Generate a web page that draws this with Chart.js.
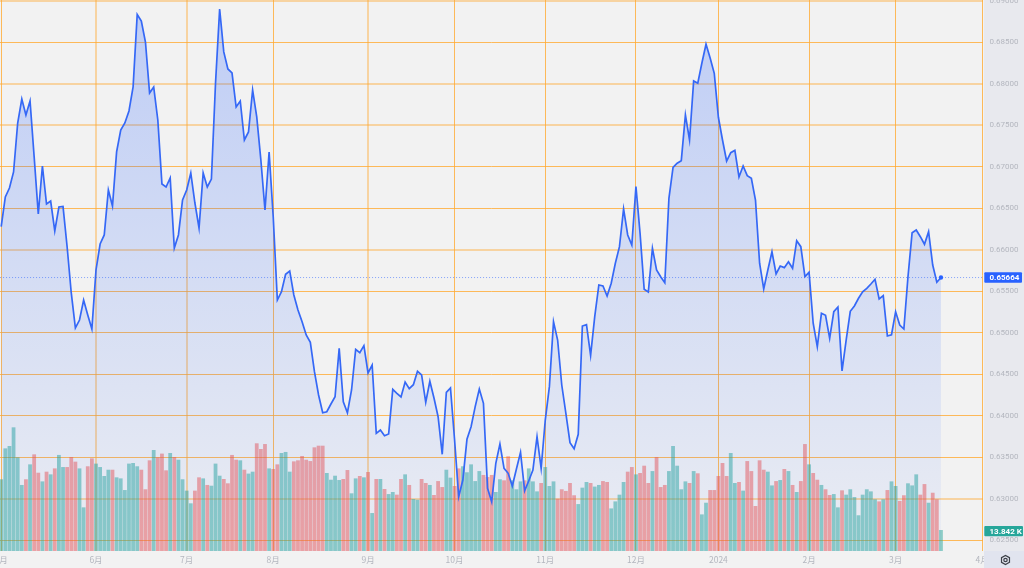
<!DOCTYPE html>
<html lang="ja">
<head>
<meta charset="utf-8">
<style>html,body{margin:0;padding:0;background:#f2f2f2;overflow:hidden}canvas{display:block}</style>
<script src="https://cdn.jsdelivr.net/npm/chart.js@4/dist/chart.umd.min.js"></script>
</head>
<body>
<canvas id="c" width="1024" height="568"></canvas>
<script>
const monthIndex = [0,23,45,66,89,110,132,154,174,196,217,238];
const monthLabels = ['5月','6月','7月','8月','9月','10月','11月','12月','2024','2月','3月','4月'];
const priceTicks = [0.625,0.63,0.635,0.64,0.645,0.65,0.655,0.66,0.665,0.67,0.675,0.68,0.685,0.69];
const prices = [
0.66277,0.66635,0.66743,0.66936,0.67526,0.67815,0.67623,0.67791,0.67117,0.66430,
0.67008,0.66550,0.66586,0.66225,0.66514,0.66520,0.66032,0.65478,0.65056,0.65152,
0.65393,0.65213,0.65044,0.65755,0.66068,0.66177,0.66719,0.66526,0.67177,0.67442,
0.67526,0.67671,0.67960,0.68834,0.68755,0.68502,0.67888,0.67960,0.67562,0.66791,
0.66755,0.66864,0.66020,0.66177,0.66598,0.66719,0.66924,0.66562,0.66261,0.66924,
0.66755,0.66851,0.68008,0.68900,0.68382,0.68177,0.68129,0.67719,0.67791,0.67321,
0.67418,0.67924,0.67599,0.67080,0.66478,0.67177,0.66394,0.65393,0.65493,0.65703,
0.65743,0.65454,0.65273,0.65132,0.64972,0.64884,0.64529,0.64249,0.64035,0.64047,
0.64140,0.64228,0.64811,0.64168,0.64035,0.64309,0.64799,0.64758,0.64843,0.64514,
0.64610,0.63787,0.63827,0.63758,0.63779,0.64317,0.64269,0.64225,0.64405,0.64325,
0.64373,0.64534,0.64490,0.64161,0.64414,0.64213,0.63987,0.63534,0.64281,0.64333,
0.63706,0.63023,0.63224,0.63715,0.63867,0.64108,0.64321,0.64149,0.63124,0.62963,
0.63426,0.63658,0.63365,0.63305,0.63152,0.63357,0.63558,0.63095,0.63216,0.63345,
0.63746,0.63365,0.63947,0.64349,0.65132,0.64911,0.64369,0.64028,0.63674,0.63602,
0.63775,0.65080,0.65096,0.64727,0.65192,0.65574,0.65562,0.65442,0.65595,0.65836,
0.66036,0.66490,0.66177,0.66056,0.66759,0.66197,0.65522,0.65490,0.66016,0.65755,
0.65674,0.65602,0.66619,0.66992,0.67041,0.67072,0.67623,0.67321,0.68032,0.68005,
0.68249,0.68475,0.68310,0.68125,0.67595,0.67321,0.67068,0.67168,0.67197,0.66876,
0.67008,0.66891,0.66860,0.66598,0.65836,0.65526,0.65755,0.65975,0.65707,0.65803,
0.65783,0.65855,0.65775,0.66108,0.66036,0.65674,0.65727,0.65113,0.64831,0.65233,
0.65209,0.64932,0.65252,0.65309,0.64538,0.64911,0.65257,0.65321,0.65414,0.65493,
0.65534,0.65586,0.65643,0.65405,0.65445,0.64960,0.64975,0.65252,0.65092,0.65044,
0.65674,0.66204,0.66237,0.66156,0.66065,0.66216,0.65815,0.65607,0.65664];
const volumes = [
47.8,68.5,70.1,82.6,62.5,44.0,47.8,57.8,64.5,52.2,
46.4,52.9,51.1,55.1,64.1,56.0,56.0,62.7,59.6,55.1,
29.0,56.5,61.8,58.3,56.0,50.0,54.2,54.2,49.1,48.4,
40.6,58.3,58.7,56.5,54.2,41.1,60.5,67.4,62.5,65.0,
53.8,65.4,62.7,60.9,47.8,40.2,31.7,40.2,49.1,48.4,
44.0,43.5,58.3,50.2,48.0,45.1,64.1,60.9,60.5,54.2,
51.6,52.9,71.9,68.1,71.4,55.1,54.7,57.8,65.4,66.1,
52.9,59.8,60.5,63.4,60.9,60.0,69.2,70.3,70.3,52.0,
47.5,50.2,47.3,48.0,54.0,38.4,48.4,50.0,49.1,52.7,
25.2,48.0,48.0,41.3,37.9,39.3,37.5,48.0,51.1,44.0,
34.6,34.1,48.0,45.3,44.0,37.3,46.6,42.6,54.2,48.9,
43.3,55.1,56.5,52.5,57.8,46.6,53.3,50.7,49.3,50.7,
39.3,47.8,47.1,63.2,47.1,41.1,46.4,47.1,55.1,46.4,
39.7,45.3,56.0,43.3,46.4,34.8,41.1,40.0,45.3,37.1,
31.2,42.2,46.0,45.3,42.9,44.0,46.6,46.0,28.3,33.0,
37.5,46.0,52.9,56.0,51.1,52.0,56.9,45.3,53.3,62.7,
42.6,44.0,53.3,70.1,56.9,41.1,46.4,45.3,53.3,51.8,
24.3,32.1,40.6,40.6,50.0,58.7,50.0,65.4,45.3,46.0,
40.2,60.0,53.3,29.9,60.5,54.2,52.9,43.7,46.6,47.3,
54.7,53.3,44.0,39.3,46.6,71.4,57.8,52.0,47.5,44.0,
41.1,37.3,37.9,29.0,40.4,37.5,41.1,35.9,23.7,37.5,
41.1,39.7,34.4,33.0,34.4,40.6,46.4,43.3,33.3,37.1,
45.1,43.7,51.1,37.5,44.6,32.1,38.8,34.4,13.842];
const volumeUp = [
1,1,1,1,1,1,0,1,0,0,
1,0,1,0,1,1,0,0,0,1,
1,0,0,1,1,1,1,0,1,1,
1,1,1,1,0,0,0,1,0,0,
0,1,0,1,1,1,1,0,0,1,
0,1,1,1,0,0,0,0,1,0,
1,1,0,0,0,1,0,0,1,1,
1,0,0,0,0,0,0,0,0,1,
1,1,1,0,0,1,1,0,1,0,
1,0,1,0,1,1,0,0,1,0,
1,1,0,0,1,0,0,0,1,1,
0,0,1,1,1,1,1,0,0,0,
1,1,0,0,1,1,1,0,1,1,
1,0,1,1,1,0,0,0,0,0,
1,1,1,0,1,1,0,0,1,1,
1,1,0,0,1,0,0,0,1,0,
0,0,1,1,1,1,1,0,1,0,
1,1,0,0,0,0,0,1,1,0,
1,0,0,0,0,0,1,1,0,1,
0,1,0,1,0,0,1,0,0,1,
0,0,1,1,0,1,1,1,1,1,
1,1,1,0,1,0,1,1,0,0,
1,1,1,0,0,1,0,0,1];

const last = prices.length - 1;
const GREEN = 'rgba(38,166,154,0.5)', RED = 'rgba(239,83,80,0.5)';
const softX = [23, 45, 89], softY = [0.69, 0.68, 0.675, 0.66, 0.63];
const gridColor = soft => soft ? 'rgba(255,170,50,0.42)' : 'rgba(255,170,50,0.8)';

const backdrop = {
  id: 'backdrop',
  beforeDraw(ch) {
    const {ctx, chartArea: a, width: w, height: h} = ch;
    ctx.save();
    ctx.fillStyle = '#f2f2f2'; ctx.fillRect(0, 0, w, h);
    ctx.fillStyle = '#e8e9ee'; ctx.fillRect(a.right + 1, 0, w - a.right - 1, a.bottom);
    ctx.restore();
  },
  afterDraw(ch) {
    const {ctx, chartArea: a, width: w, height: h, scales} = ch;
    ctx.save();
    ctx.fillStyle = '#e1e4ef'; ctx.fillRect(a.right + 1, a.bottom, w - a.right - 1, h - a.bottom);
    const cx = 1005.5, cy = 560;
    ctx.strokeStyle = '#3c4048'; ctx.lineWidth = 1.2;
    ctx.beginPath();
    for (let k = 0; k < 6; k++) {
      const t = Math.PI / 6 + k * Math.PI / 3;
      const px = cx + 4.6 * Math.cos(t), py = cy + 4.6 * Math.sin(t);
      k ? ctx.lineTo(px, py) : ctx.moveTo(px, py);
    }
    ctx.closePath(); ctx.stroke();
    ctx.beginPath(); ctx.arc(cx, cy, 1.7, 0, 7); ctx.stroke();
    const tag = (y, color, txt, right) => {
      ctx.fillStyle = color;
      ctx.beginPath(); ctx.roundRect(a.right + 1.3, y - 5.2, right - a.right - 1.3, 10.4, 1); ctx.fill();
      ctx.fillStyle = '#fff'; ctx.font = 'bold 8px Roboto'; ctx.textBaseline = 'middle'; ctx.textAlign = 'left';
      ctx.fillText(txt, a.right + 6.5, y + 0.4);
    };
    tag(scales.y.getPixelForValue(prices[last]), '#2962ff', prices[last].toFixed(5), 1022);
    tag(scales.vol.getPixelForValue(volumes[last]) + 0.8, '#26a69a', volumes[last].toFixed(3) + ' K', 1023);
    ctx.restore();
  }
};

new Chart(document.getElementById('c').getContext('2d'), {
  data: {
    datasets: [
      {
        type: 'line', label: 'price', xAxisID: 'x', yAxisID: 'y', order: 0,
        data: prices.map((y, x) => ({x, y})),
        borderColor: '#3568f6', borderWidth: 1.7, tension: 0,
        pointRadius: c => c.dataIndex === last ? 2.2 : 0,
        pointBackgroundColor: '#2962ff', pointBorderWidth: 0, pointHoverRadius: 0,
        fill: 'start',
        backgroundColor: c => {
          const a = c.chart.chartArea;
          if (!a) return 'transparent';
          const g = c.chart.ctx.createLinearGradient(0, a.top, 0, a.bottom);
          g.addColorStop(0, 'rgba(41,98,255,0.26)');
          g.addColorStop(1, 'rgba(41,98,255,0.04)');
          return g;
        }
      },
      {
        type: 'line', label: 'last', xAxisID: 'x', yAxisID: 'y', order: 1,
        data: [{x: monthIndex[0] - 1, y: prices[last]}, {x: monthIndex[monthIndex.length - 1] + 1, y: prices[last]}],
        borderColor: 'rgba(41,98,255,0.55)', borderWidth: 1, borderDash: [1, 2], pointRadius: 0, fill: false
      },
      {
        type: 'bar', label: 'volume', xAxisID: 'x', yAxisID: 'vol', order: 2,
        data: volumes.map((y, x) => ({x, y})),
        backgroundColor: volumeUp.map(u => u ? GREEN : RED),
        barThickness: 3.1, borderWidth: 0
      }
    ]
  },
  plugins: [backdrop],
  options: {
    responsive: false, animation: false,
    events: [],
    layout: {padding: 0, autoPadding: false},
    plugins: {legend: {display: false}, tooltip: {enabled: false}},
    scales: {
      x: {
        type: 'linear', position: 'bottom', min: -0.29, max: 238.2, offset: false,
        afterBuildTicks: s => { s.ticks = monthIndex.map(value => ({value})); },
        afterFit: s => { s.height = 17; s.paddingLeft = 0; s.paddingRight = 0; },
        grid: {
          color: c => gridColor(c.tick && softX.includes(c.tick.value)),
          lineWidth: c => c.tick && softX.includes(c.tick.value) ? 2 : 1,
          drawTicks: false, offset: false
        },
        border: {display: false},
        ticks: {
          autoSkip: false, maxRotation: 0, padding: 4, color: '#b4b7bf',
          font: {family: '"Noto Sans CJK JP", Roboto', size: 8.5},
          callback: v => monthLabels[monthIndex.indexOf(v)]
        }
      },
      y: {
        type: 'linear', position: 'right', min: 0.62369, max: 0.69008,
        afterBuildTicks: s => { s.ticks = priceTicks.map(value => ({value})); },
        afterFit: s => { s.width = 41; s.paddingTop = 0; s.paddingBottom = 0; },
        grid: {
          color: c => gridColor(c.tick && softY.includes(c.tick.value)),
          lineWidth: c => c.tick && softY.includes(c.tick.value) ? 2 : 1,
          drawTicks: false
        },
        border: {display: false},
        ticks: {
          autoSkip: false, padding: 6.5, color: '#b4b7bf',
          font: {family: 'Roboto', size: 8},
          callback: v => v.toFixed(5)
        }
      },
      vol: {
        type: 'linear', display: false, position: 'left', min: 0, max: 369,
        grid: {display: false}
      }
    }
  }
});
</script>
</body>
</html>
